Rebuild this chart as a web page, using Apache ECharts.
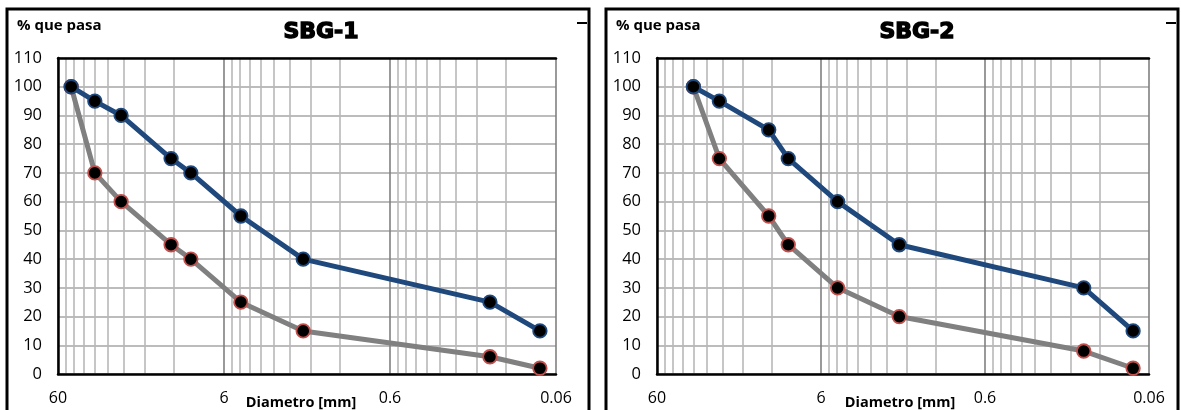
<!DOCTYPE html>
<html>
<head>
<meta charset="utf-8">
<script src="https://cdn.jsdelivr.net/npm/echarts@6/dist/echarts.min.js"></script>
<style>
html,body{margin:0;padding:0;background:#fff;}
#c{width:1181px;height:410px;}
</style>
</head>
<body>
<div id="c"></div>
<script>
// ---- data ----
const titles = ['SBG-1', 'SBG-2'];
const diam1 = [50, 36, 25, 12.5, 9.5, 4.75, 2, 0.15, 0.075];
const upper1 = [100, 95, 90, 75, 70, 55, 40, 25, 15];
const lower1 = [100, 70, 60, 45, 40, 25, 15, 6, 2];
const diam2 = [36, 25, 12.5, 9.5, 4.75, 2, 0.15, 0.075];
const upper2 = [100, 95, 85, 75, 60, 45, 30, 15];
const lower2 = [100, 75, 55, 45, 30, 20, 8, 2];
const xMajorTicks = [60, 6, 0.6, 0.06];
const xMultipliers = [2, 3, 4, 5, 6, 7, 8, 9];
const yTicks = {min: 0, max: 110, interval: 10};
const yName = '% que pasa';
const xName = 'Diametro [mm]';

// minor grid values (Excel-style log minor gridlines)
const xMinorTicks = [];
[0.06, 0.6, 6].forEach(b => xMultipliers.forEach(m => xMinorTicks.push(+(b * m).toPrecision(6))));

const pair = (xs, ys) => xs.map((x, i) => [x, ys[i]]);

const FONT = 'Open Sans';
const grids = [
  {left: 58, top: 58, width: 498, height: 316},
  {left: 657, top: 58, width: 492, height: 316}
];

const xAxes = [], yAxes = [], series = [];
grids.forEach((g, gi) => {
  // minor axis (top line, light grid)
  xAxes.push({
    type: 'log', logBase: 10, gridIndex: gi, inverse: true, min: 0.06, max: 60,
    position: 'top',
    axisLine: {show: true, onZero: false, lineStyle: {color: '#000', width: 2.5}},
    axisTick: {show: false, customValues: xMinorTicks},
    axisLabel: {show: false, customValues: xMinorTicks},
    splitLine: {show: true, lineStyle: {color: '#b8b8b8', width: 1.6}},
    minorSplitLine: {show: false}
  });
  // major axis
  xAxes.push({
    type: 'log', logBase: 10, gridIndex: gi, inverse: true, min: 0.06, max: 60,
    position: 'bottom',
    axisLine: {show: true, onZero: false, lineStyle: {color: '#000', width: 2.5}},
    axisTick: {show: false, customValues: xMajorTicks},
    axisLabel: {show: true, customValues: xMajorTicks, margin: 16,
      fontFamily: FONT, fontSize: 16, color: '#000',
      formatter: v => String(+(+v).toPrecision(3))},
    splitLine: {show: true, lineStyle: {color: '#808080', width: 1.6}}
  });
  yAxes.push({
    type: 'value', gridIndex: gi, min: yTicks.min, max: yTicks.max, interval: yTicks.interval,
    axisLine: {show: true, lineStyle: {color: '#000', width: 2.5}},
    axisTick: {show: false},
    axisLabel: {fontFamily: FONT, fontSize: 16.5, color: '#000', margin: 16},
    splitLine: {show: true, lineStyle: {color: '#a6a6a6', width: 1.6}}
  });
});

const sets = [[diam1, upper1, lower1], [diam2, upper2, lower2]];
sets.forEach((s, gi) => {
  series.push({
    type: 'line', xAxisIndex: gi * 2 + 1, yAxisIndex: gi, data: pair(s[0], s[2]),
    lineStyle: {color: '#808080', width: 5},
    symbol: 'circle', symbolSize: 13.5,
    itemStyle: {color: '#000', borderColor: '#C0504D', borderWidth: 1.8},
    z: 3, animation: false
  });
  series.push({
    type: 'line', xAxisIndex: gi * 2 + 1, yAxisIndex: gi, data: pair(s[0], s[1]),
    lineStyle: {color: '#1F497D', width: 5},
    symbol: 'circle', symbolSize: 13.5,
    itemStyle: {color: '#000', borderColor: '#1F497D', borderWidth: 1.8},
    z: 4, animation: false
  });
});

const graphic = [];
const frames = [{x: 7, w: 582, tx: 321, dash: 577, yl: 17, dx: 301}, {x: 606, w: 572, tx: 917, dash: 1166, yl: 616, dx: 900}];
frames.forEach((f, i) => {
  graphic.push({type: 'rect', shape: {x: f.x, y: 9, width: f.w, height: 430},
    style: {fill: 'none', stroke: '#000', lineWidth: 3}, z: 10});
  graphic.push({type: 'line', shape: {x1: f.dash, y1: 23, x2: f.dash + 10, y2: 23},
    style: {stroke: '#000', lineWidth: 2}, z: 10});
  graphic.push({type: 'text', left: f.yl, top: 18,
    style: {text: yName, font: 'bold 15px "Open Sans"', fill: '#000'}, z: 10});
  graphic.push({type: 'text', x: f.tx, y: 32,
    style: {text: titles[i], font: 'bold 22px "DejaVu Sans"', fill: '#000',
      align: 'center', verticalAlign: 'middle', stroke: '#000', lineWidth: 1.4}, z: 10});
  graphic.push({type: 'text', x: f.dx, y: 403,
    style: {text: xName, font: 'bold 14.5px "Open Sans"', fill: '#000',
      align: 'center', verticalAlign: 'middle'}, z: 10});
});

const chart = echarts.init(document.getElementById('c'), null, {renderer: 'canvas'});
chart.setOption({
  animation: false,
  grid: grids,
  xAxis: xAxes,
  yAxis: yAxes,
  series: series,
  graphic: graphic
});
</script>
</body>
</html>
